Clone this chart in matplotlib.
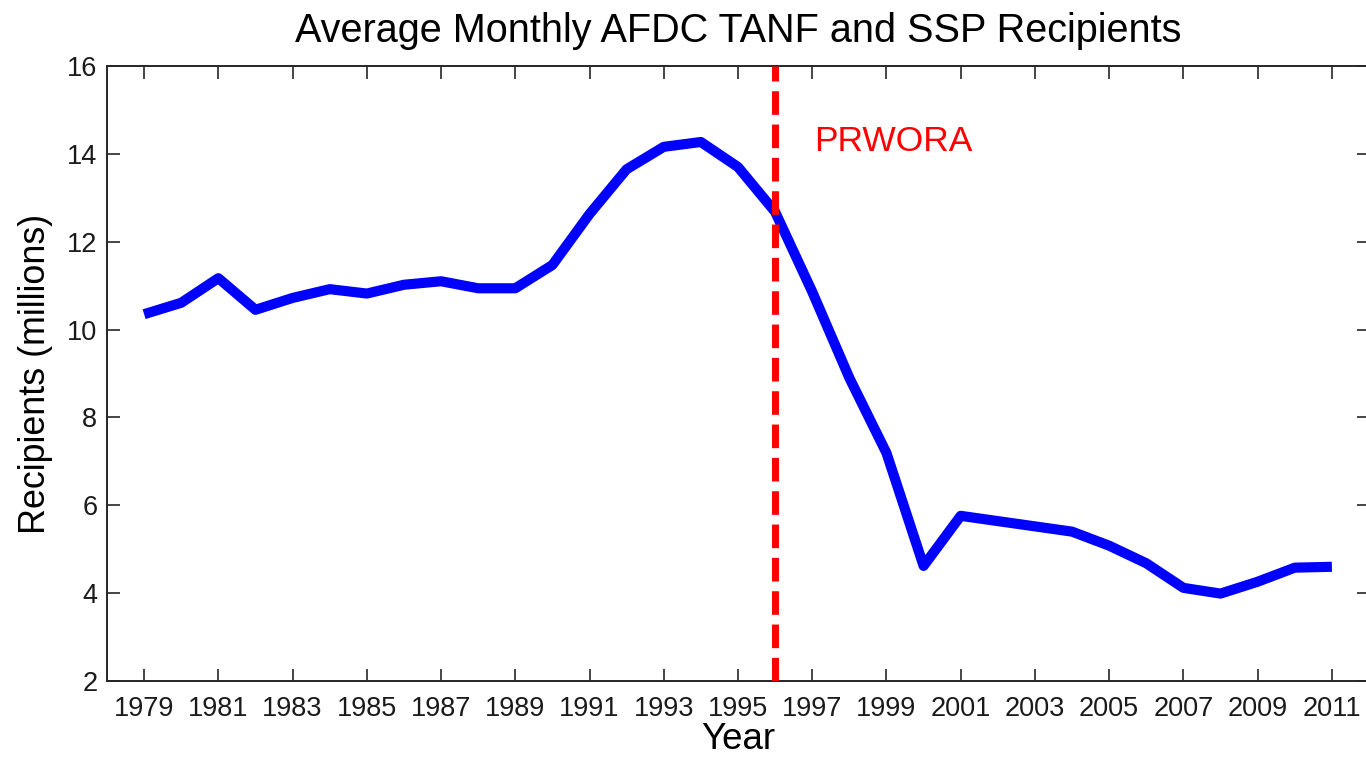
import matplotlib
matplotlib.use("Agg")
import matplotlib.pyplot as plt
import numpy as np

# average monthly recipients, millions
years = np.arange(1979, 2012)
recipients = [10.35, 10.61, 11.17, 10.45, 10.72, 10.92, 10.82, 11.02, 11.10,
              10.94, 10.94, 11.47, 12.63, 13.65, 14.16, 14.27, 13.70, 12.68,
              10.86, 8.90, 7.19, 4.62, 5.76, 5.64, 5.52, 5.40, 5.08, 4.68,
              4.12, 3.99, 4.26, 4.58, 4.60]
event_year = 1996
event_label = "PRWORA"
xticks = list(range(1979, 2012, 2))
yticks = list(range(2, 17, 2))

plt.rcParams['font.family'] = ['Liberation Sans', 'DejaVu Sans']
plt.rcParams['lines.scale_dashes'] = False

fig = plt.figure(figsize=(13.66, 7.58), dpi=100)
ax = fig.add_axes([107/1366, 1 - 681/758, (1369 - 107)/1366, (681 - 66)/758])

ax.plot(years, recipients, color='#0000ff', lw=7.3, solid_joinstyle='round',
        solid_capstyle='butt', zorder=3)
ax.axvline(event_year, color='#ff0000', lw=5, dashes=(17, 7), zorder=4)
ax.text(event_year + 1.05, 14.27, event_label, color='#ff0000', fontsize=25.5,
        ha='left', va='center')

ax.set_xlim(1978, 2012)
ax.set_ylim(2, 16)
ax.set_xticks(xticks)
ax.set_yticks(yticks)
ax.tick_params(direction='in', top=True, right=True, length=9, width=1.2,
               color='#262626', labelsize=19.5, labelcolor='#1a1a1a')
ax.tick_params(axis='x', pad=11)
ax.tick_params(axis='y', pad=7)
for s in ax.spines.values():
    s.set_linewidth(1.4)
    s.set_color('#262626')

ax.set_xlabel('Year', fontsize=26.5, labelpad=0)
ax.set_ylabel('Recipients (millions)', fontsize=25.8, labelpad=10)
ax.set_title('Average Monthly AFDC TANF and SSP Recipients', fontsize=28.5, pad=17)

fig.savefig('out.png', dpi=100)
